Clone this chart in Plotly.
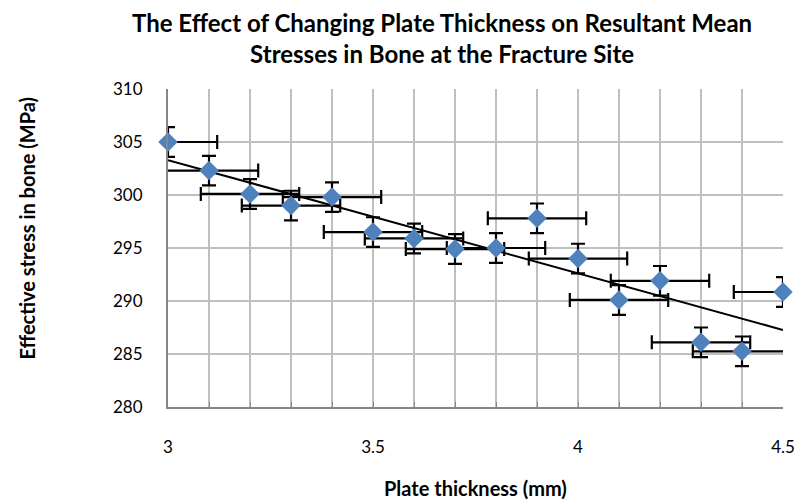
import numpy as np
import plotly.graph_objects as go

# Data
thickness = [3.0, 3.1, 3.2, 3.3, 3.4, 3.5, 3.6, 3.7, 3.8, 3.9, 4.0, 4.1, 4.2, 4.3, 4.4, 4.5]
stress = [305.0, 302.3, 300.1, 299.0, 299.8, 296.5, 295.9, 294.9, 295.0, 297.8,
          294.0, 290.1, 291.9, 286.1, 285.25, 290.85]
stress_err = 1.4
thickness_err = 0.12

x_tickvals = [round(3.0 + 0.1 * i, 1) for i in range(16)]
x_ticktext = ["3", "", "", "", "", "3.5", "", "", "", "", "4", "", "", "", "", "4.5"]
y_tickvals = [280, 285, 290, 295, 300, 305, 310]

title_text = "<b>The Effect of Changing Plate Thickness on Resultant Mean<br>Stresses in Bone at the Fracture Site</b>"
y_title = "<b>Effective stress in bone (MPa)</b>"
x_title = "<b>Plate thickness (mm)</b>"

# Linear trend line
slope, intercept = np.polyfit(thickness, stress, 1)
trend_x = [thickness[0], thickness[-1]]
trend_y = [slope * v + intercept for v in trend_x]

W, H = 807, 501
L, R, T, B = 168, 790, 89, 407
pw, ph = R - L, B - T

FONT = "Lato"
fig = go.Figure()

# horizontal error bars (clipped to plot area)
fig.add_trace(go.Scatter(
    x=thickness, y=stress, mode="markers",
    marker=dict(size=1, color="rgba(0,0,0,0)"),
    error_x=dict(type="constant", value=thickness_err, color="black", thickness=2.2, width=7),
    cliponaxis=True, showlegend=False, hoverinfo="skip"))

# trend line
fig.add_trace(go.Scatter(
    x=trend_x, y=trend_y, mode="lines",
    line=dict(color="black", width=2), showlegend=False))

# vertical error bars + markers
fig.add_trace(go.Scatter(
    x=thickness, y=stress, mode="markers",
    marker=dict(symbol="diamond", size=15, color="#4F81BD", line=dict(width=0)),
    error_y=dict(type="constant", value=stress_err, color="black", thickness=2.2, width=7),
    cliponaxis=False, showlegend=False))

fig.update_layout(
    width=W, height=H,
    margin=dict(l=L, r=W - R, t=T, b=H - B, pad=0),
    paper_bgcolor="white", plot_bgcolor="white",
    font=dict(family=FONT, color="black", size=17),
    xaxis=dict(
        range=[3, 4.5], tickmode="array", tickvals=x_tickvals, ticktext=x_ticktext,
        showgrid=True, gridcolor="#BFBFBF", gridwidth=1.5,
        showline=True, linecolor="#868686", linewidth=2,
        ticks="inside", ticklen=5, tickcolor="#868686", tickwidth=1,
        ticklabelstandoff=24, zeroline=False,
        tickfont=dict(family=FONT, size=17)),
    yaxis=dict(
        range=[280, 310], tickmode="array", tickvals=y_tickvals,
        showgrid=True, gridcolor="#BFBFBF", gridwidth=1.5,
        showline=True, linecolor="#868686", linewidth=2,
        ticks="", ticklabelstandoff=20, zeroline=False,
        tickfont=dict(family=FONT, size=17)),
    annotations=[
        dict(text=title_text,
             xref="paper", yref="paper", x=(445 - L) / pw, y=(B - 6) / ph,
             xanchor="center", yanchor="top", showarrow=False,
             font=dict(family=FONT, size=24)),
        dict(text=y_title, textangle=-90,
             xref="paper", yref="paper", x=(25 - L) / pw, y=(B - 228) / ph,
             xanchor="center", yanchor="middle", showarrow=False,
             font=dict(family=FONT, size=20)),
        dict(text=x_title,
             xref="paper", yref="paper", x=(479 - L) / pw, y=(B - 488) / ph,
             xanchor="center", yanchor="middle", showarrow=False,
             font=dict(family=FONT, size=20)),
    ],
)

fig.write_html("out.html", config={"displayModeBar": False},
               post_script="document.body.style.margin='0';document.body.style.padding='0';")
